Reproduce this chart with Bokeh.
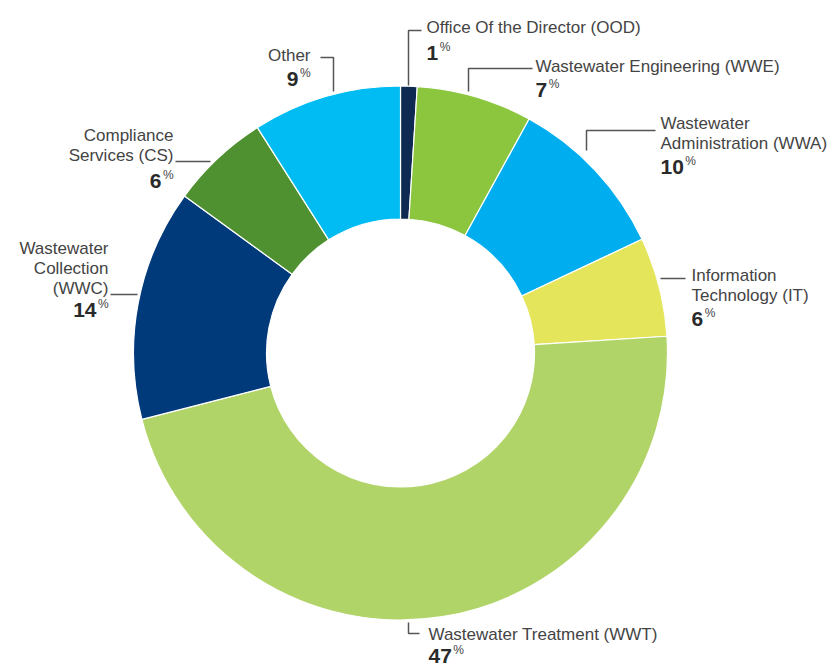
from bokeh.plotting import figure
from bokeh.models import Range1d, ColumnDataSource
from bokeh.embed import file_html
from bokeh.resources import INLINE
from bokeh.core.properties import value
import math

# ---- data ----
categories = ["Office Of the Director (OOD)", "Wastewater Engineering (WWE)",
              "Wastewater Administration (WWA)", "Information Technology (IT)",
              "Wastewater Treatment (WWT)", "Wastewater Collection (WWC)",
              "Compliance Services (CS)", "Other"]
shares = [1, 7, 10, 6, 47, 14, 6, 9]
colors = ["#0f2a52", "#8cc63f", "#00aeef", "#e4e55b",
          "#b1d469", "#003a7a", "#4f9130", "#00bcf2"]
label_lines = [["Office Of the Director (OOD)"],
               ["Wastewater Engineering (WWE)"],
               ["Wastewater", "Administration (WWA)"],
               ["Information", "Technology (IT)"],
               ["Wastewater Treatment (WWT)"],
               ["Wastewater", "Collection", "(WWC)"],
               ["Compliance", "Services (CS)"],
               ["Other"]]

# ---- layout (image pixel coordinates) ----
W, H = 830, 665
def Y(y):
    return H - y

CX, CY = 400, Y(352.5)
R_OUT, R_IN = 267, 134

p = figure(width=W, height=H, output_backend="svg", toolbar_location=None,
           x_range=Range1d(0, W), y_range=Range1d(0, H), min_border=0)
p.axis.visible = False
p.grid.visible = False
p.outline_line_color = None
p.background_fill_color = "white"

# wedges, clockwise from 12 o'clock
total = sum(shares)
starts, ends = [], []
acc = 0
for s in shares:
    a0 = math.pi / 2 - 2 * math.pi * acc / total
    acc += s
    a1 = math.pi / 2 - 2 * math.pi * acc / total
    starts.append(a0)
    ends.append(a1)
src = ColumnDataSource(dict(start=starts, end=ends, color=colors, cat=categories))
p.annular_wedge(x=CX, y=CY, inner_radius=R_IN, outer_radius=R_OUT,
                start_angle="start", end_angle="end", direction="clock",
                fill_color="color", line_color="white", line_width=1.2, source=src)

# label layout: (anchor x, first baseline y, align, percent baseline y, leader polyline)
layout = [
    (426, 27, "left", 52, [(421, 30), (408, 30), (408, 85)]),
    (535, 66, "left", 89, [(532, 68), (468, 68), (468, 91)]),
    (660, 123, "left", 166, [(655, 130), (586, 130), (586, 150)]),
    (691, 275, "left", 318, [(685, 278), (660, 278)]),
    (428, 634, "left", 655, [(419, 633), (408, 633), (408, 622)]),
    (108, 248, "right", 309, [(110, 294), (137, 294)]),
    (173, 135, "right", 180, [(175, 161), (210, 161)]),
    (310, 55, "right", 78, [(320, 57), (333, 57), (333, 91)]),
]

FONT = value("Liberation Sans")
TXT = "#444444"
NUM_PX = 21
NUM_W = 0.556 * NUM_PX  # bold digit advance
PCT_W = 10.5

for (ax, by, align, pby, leader), lines, sh in zip(layout, label_lines, shares):
    xs = [ax] * len(lines)
    ys = [Y(by + 20 * i) for i in range(len(lines))]
    p.text(x=xs, y=ys, text=lines, text_font=FONT, text_font_size="17px",
           text_color=TXT, text_align=align, text_baseline="alphabetic")
    num = str(sh)
    if align == "left":
        nx = ax
        px = ax + NUM_W * len(num) + 1.5
    else:
        px = ax - PCT_W
        nx = px - NUM_W * len(num) - 1.5
    p.text(x=[nx], y=[Y(pby)], text=[num], text_font=FONT, text_font_size=f"{NUM_PX}px",
           text_font_style="bold", text_color="#2a2a2a", text_align="left",
           text_baseline="alphabetic")
    p.text(x=[px], y=[Y(pby - 6)], text=["%"], text_font=FONT, text_font_size="12px",
           text_color=TXT, text_align="left", text_baseline="alphabetic")
    p.line(x=[pt[0] for pt in leader], y=[Y(pt[1]) for pt in leader],
           line_color="#555555", line_width=1.5)

open("out.html", "w").write(file_html(p, INLINE))
